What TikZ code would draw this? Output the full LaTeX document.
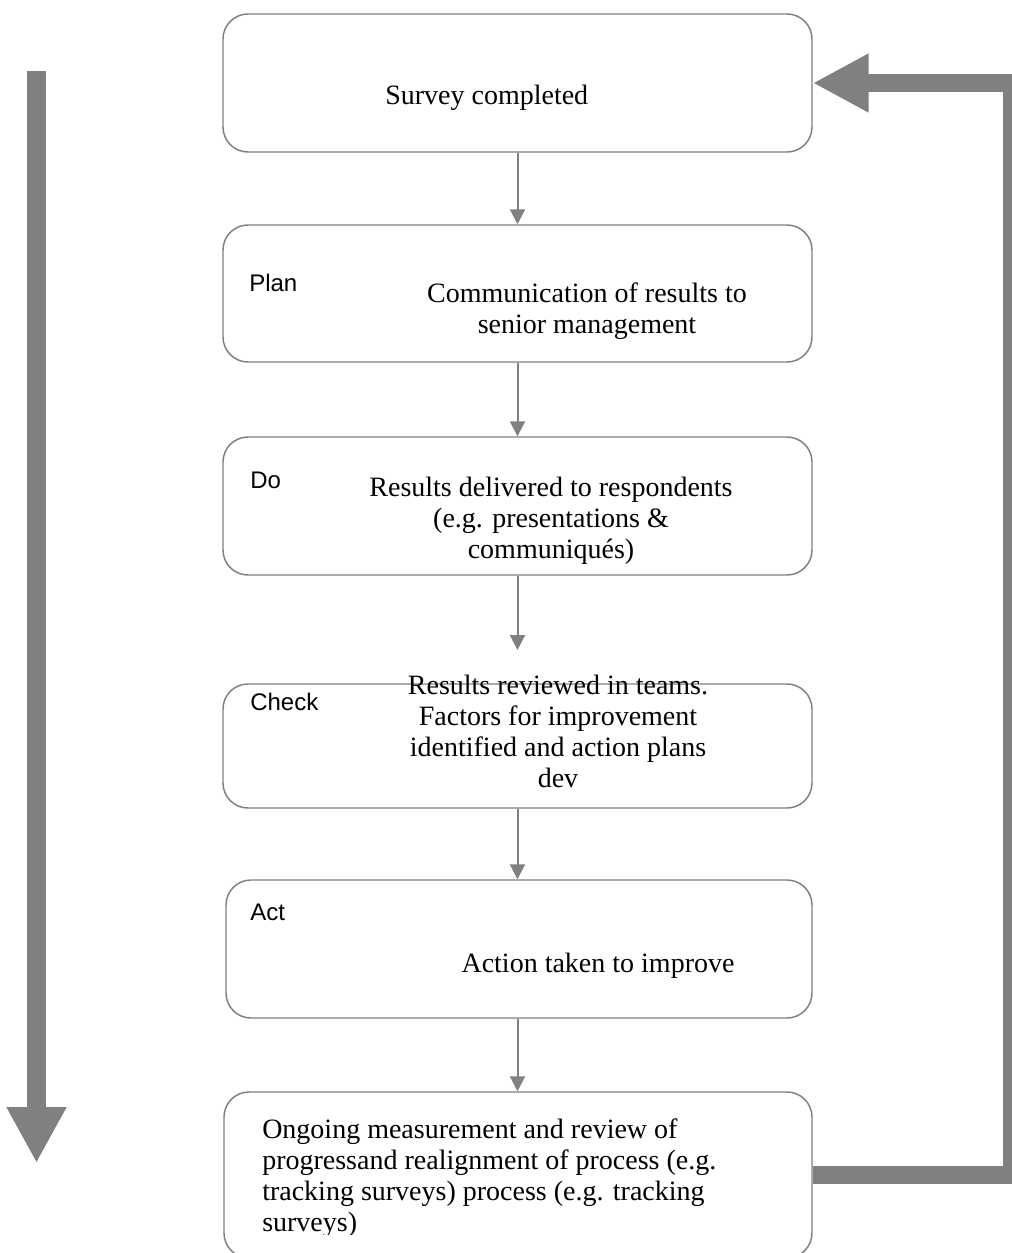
\documentclass[tikz,border=0pt]{standalone}
\usepackage{fontspec}
\setmainfont{Liberation Serif}
\newfontfamily\labelfont{Liberation Sans}
\usetikzlibrary{arrows.meta}
\definecolor{arrowgray}{HTML}{808080}
\definecolor{boxgray}{HTML}{7F7F7F}
\begin{document}
\begin{tikzpicture}[x=0.75pt,y=-0.75pt,
  stage/.style={draw=boxgray, line width=1.1pt, rounded corners=18.75pt, inner sep=0pt},
  body/.style={font=\fontsize{21pt}{23.25pt}\selectfont, inner sep=0pt, align=center, anchor=base},
  bodyleft/.style={font=\fontsize{21pt}{23.25pt}\selectfont, inner sep=0pt, align=left, anchor=base west},
  lab/.style={font=\labelfont\fontsize{18pt}{21pt}\selectfont, inner sep=0pt, anchor=base west},
  conn/.style={draw=arrowgray, line width=1.5pt, -{Triangle[length=11.25pt,width=11.25pt]}},
  bigarrow/.style={draw=arrowgray, line width=13.5pt, line join=miter, -{Triangle[length=42pt,width=41.25pt]}},
  bigdown/.style={draw=arrowgray, line width=14.25pt, -{Triangle[length=42pt,width=42pt]}}
]
\useasboundingbox (0,0) rectangle (1012,1253);
\begin{scope}
\clip (0,0) rectangle (1012,1253);

% boxes
\node[stage, minimum width=441.75pt, minimum height=103.5pt] (b1) at (517.5,83) {};
\node[stage, minimum width=441.75pt, minimum height=102.75pt] (b2) at (517.5,293.5) {};
\node[stage, minimum width=441.75pt, minimum height=103.5pt] (b3) at (517.5,506) {};
\node[stage, minimum width=441.75pt, minimum height=93pt] (b4) at (517.5,746) {};
\node[stage, minimum width=439.5pt, minimum height=103.5pt] (b5) at (519,949) {};
\node[stage, minimum width=441pt, minimum height=124.5pt] (b6) at (518,1175) {};

% texts (base anchor = baseline of the last line)
\node[bodyleft] (t1) at (385,104) {Survey completed};

\node[lab] (l2) at (249,291) {Plan};
\node[body] (t2) at (587,333) {Communication of results to\\senior management};

\node[lab] (l3) at (250,488) {Do};
\begin{scope}
\clip (224,440) rectangle (811,563);
\node[body] (t3) at (551,558) {Results delivered to respondents\\(e.g. presentations \&\\communiqués)};
\end{scope}

\node[lab] (l4) at (250,710) {Check};
\node[body] (t4) at (558,787) {Results reviewed in teams.\\Factors for improvement\\identified and action plans\\dev};

\node[lab] (l5) at (250,920) {Act};
\node[body] (t5) at (598,972) {Action taken to improve};

\begin{scope}
\clip (225,1095) rectangle (811,1234);
\node[bodyleft] (t6) at (262,1231) {Ongoing measurement and review of\\progressand realignment of process (e.g.\\tracking surveys) process (e.g. tracking\\surveys)};
\end{scope}

% connectors
\coordinate (c34) at (517.5,650);
\draw[conn] (b1.south) -- (b2.north);
\draw[conn] (b2.south) -- (b3.north);
\draw[conn] (b3.south) -- (c34);
\draw[conn] (b4.south) -- (b4.south |- b5.north);
\draw[conn] (b5.south -| b4.south) -- (b4.south |- b6.north);

% feedback arrow
\coordinate (fbA) at (1012,1175);
\coordinate (fbB) at (1012,83);
\draw[bigarrow] (b6.east) -- (fbA) -- (fbB) -- (b1.east);

% left downward arrow
\coordinate (ltop) at (36.5,71);
\coordinate (lbot) at (36.5,1163);
\draw[bigdown] (ltop) -- (lbot);
\end{scope}
\end{tikzpicture}
\end{document}
